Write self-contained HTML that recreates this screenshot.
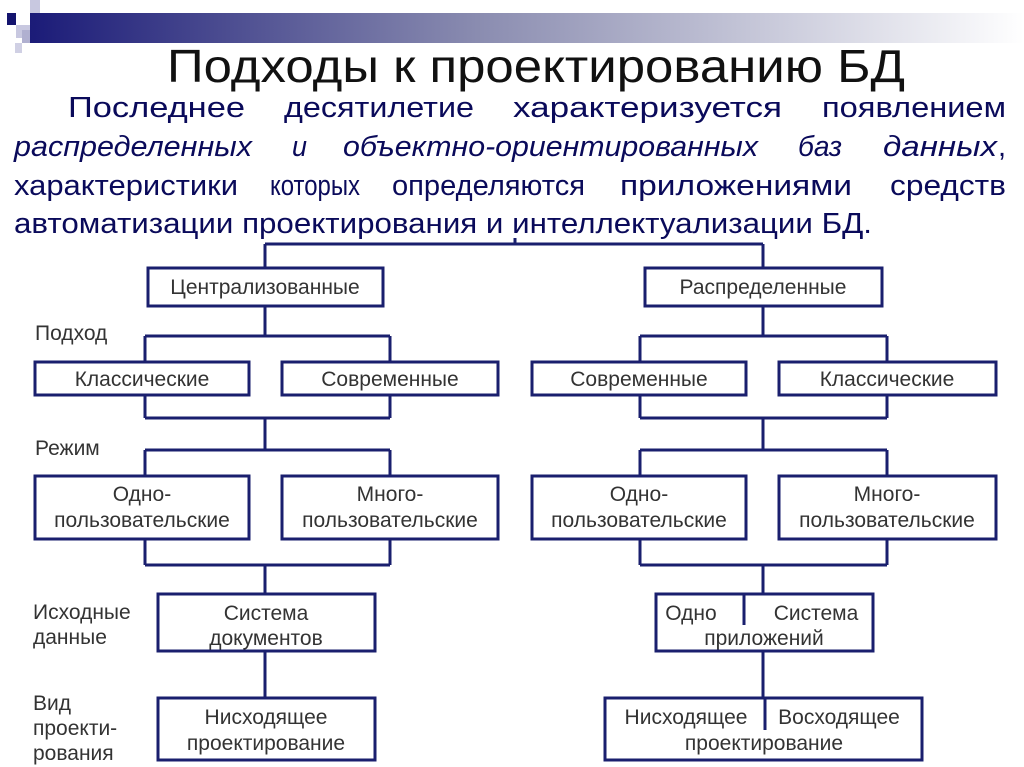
<!DOCTYPE html>
<html><head><meta charset="utf-8"><style>
html,body{margin:0;padding:0;background:#fff;}
svg{display:block;}
</style></head><body>
<svg width="1024" height="767" viewBox="0 0 1024 767" xmlns="http://www.w3.org/2000/svg">
<defs>
<linearGradient id="g" x1="0" x2="1" y1="0" y2="0">
<stop offset="0" stop-color="#1b1b78"/><stop offset="0.45" stop-color="#8a8cb0"/><stop offset="1" stop-color="#ffffff"/>
</linearGradient>
</defs>
<rect x="30" y="13" width="994" height="30" fill="url(#g)"/>
<rect x="7" y="13" width="9" height="12" fill="#14146e"/>
<rect x="30" y="0" width="10" height="13" fill="#c8c8e0"/>
<rect x="16" y="25" width="14" height="13" fill="#c8c8e0"/>
<rect x="15" y="43" width="7" height="10" fill="#d0d0e4"/>
<rect x="22" y="30" width="8" height="13" fill="#b0b0d0"/>
<text x="167" y="82" textLength="738" lengthAdjust="spacingAndGlyphs" font-family="Liberation Sans, sans-serif" font-size="46" fill="#111">Подходы к проектированию БД</text>
<g font-family="Liberation Sans, sans-serif" font-size="29" fill="#0a0a5a">
<text x="68" y="117" textLength="177" lengthAdjust="spacingAndGlyphs">Последнее</text><text x="284" y="117" textLength="190" lengthAdjust="spacingAndGlyphs">десятилетие</text><text x="513" y="117" textLength="269" lengthAdjust="spacingAndGlyphs">характеризуется</text><text x="822" y="117" textLength="184" lengthAdjust="spacingAndGlyphs">появлением</text>
<g font-style="italic"><text x="14" y="156" textLength="238" lengthAdjust="spacingAndGlyphs">распределенных</text><text x="292" y="156" textLength="15" lengthAdjust="spacingAndGlyphs">и</text><text x="343" y="156" textLength="415" lengthAdjust="spacingAndGlyphs">объектно-ориентированных</text><text x="798" y="156" textLength="44" lengthAdjust="spacingAndGlyphs">баз</text><text x="883" y="156" textLength="114" lengthAdjust="spacingAndGlyphs">данных</text></g><text x="998" y="156">,</text>
<text x="14" y="195" textLength="224" lengthAdjust="spacingAndGlyphs">характеристики</text><text x="270" y="195" textLength="90" lengthAdjust="spacingAndGlyphs">которых</text><text x="392" y="195" textLength="193" lengthAdjust="spacingAndGlyphs">определяются</text><text x="620" y="195" textLength="232" lengthAdjust="spacingAndGlyphs">приложениями</text><text x="890" y="195" textLength="116" lengthAdjust="spacingAndGlyphs">средств</text>
<text x="14" y="233" textLength="858" lengthAdjust="spacingAndGlyphs">автоматизации проектирования и интеллектуализации БД.</text>
</g>
<g stroke="#1a1f6e" stroke-width="3" fill="none">
<path d="M515 238V244M265 244H763M265 244V268M763 244V268"/>
<rect x="148" y="268" width="235" height="38"/><rect x="645" y="268" width="237" height="38"/>
<path d="M265 306V336M145 336H390M145 336V362M390 336V362"/>
<path d="M763 306V336M640 336H887M640 336V362M887 336V362"/>
<rect x="35" y="362" width="214" height="33"/><rect x="282" y="362" width="216" height="33"/>
<rect x="532" y="362" width="214" height="33"/><rect x="779" y="362" width="217" height="33"/>
<path d="M145 395V418M390 395V418M145 418H390M265 418V450M145 450H390M145 450V476M390 450V476"/>
<path d="M640 395V418M887 395V418M640 418H887M763 418V450M640 450H887M640 450V476M887 450V476"/>
<rect x="35" y="476" width="214" height="63"/><rect x="282" y="476" width="216" height="63"/>
<rect x="532" y="476" width="214" height="63"/><rect x="779" y="476" width="217" height="63"/>
<path d="M145 539V565M390 539V565M145 565H390M265 565V594"/>
<path d="M640 539V565M887 539V565M640 565H887M763 565V594"/>
<rect x="158" y="594" width="217" height="57"/><rect x="656" y="594" width="217" height="57"/>
<path d="M744 594V625"/>
<path d="M265 651V698M763 651V698"/>
<rect x="158" y="698" width="217" height="62"/><rect x="605" y="698" width="317" height="62"/>
<path d="M765 698V730"/>
</g>
<g font-family="Liberation Sans, sans-serif" font-size="21" fill="#333" text-anchor="middle">
<text x="265" y="294">Централизованные</text><text x="763" y="294">Распределенные</text>
<text x="142" y="386">Классические</text><text x="390" y="386">Современные</text>
<text x="639" y="386">Современные</text><text x="887" y="386">Классические</text>
<text x="142" y="501">Одно-</text><text x="142" y="527">пользовательские</text>
<text x="390" y="501">Много-</text><text x="390" y="527">пользовательские</text>
<text x="639" y="501">Одно-</text><text x="639" y="527">пользовательские</text>
<text x="887" y="501">Много-</text><text x="887" y="527">пользовательские</text>
<text x="266" y="620">Система</text><text x="266" y="645">документов</text>
<text x="691" y="620">Одно</text><text x="816" y="620">Система</text><text x="764" y="645">приложений</text>
<text x="266" y="724">Нисходящее</text><text x="266" y="750">проектирование</text>
<text x="686" y="724">Нисходящее</text><text x="839" y="724">Восходящее</text><text x="764" y="750">проектирование</text>
</g>
<g font-family="Liberation Sans, sans-serif" font-size="21" fill="#333">
<text x="35" y="340">Подход</text><text x="35" y="455">Режим</text>
<text x="33" y="619">Исходные</text><text x="33" y="644">данные</text>
<text x="33" y="710">Вид</text><text x="33" y="735">проекти-</text><text x="33" y="760">рования</text>
</g>
</svg>
</body></html>
